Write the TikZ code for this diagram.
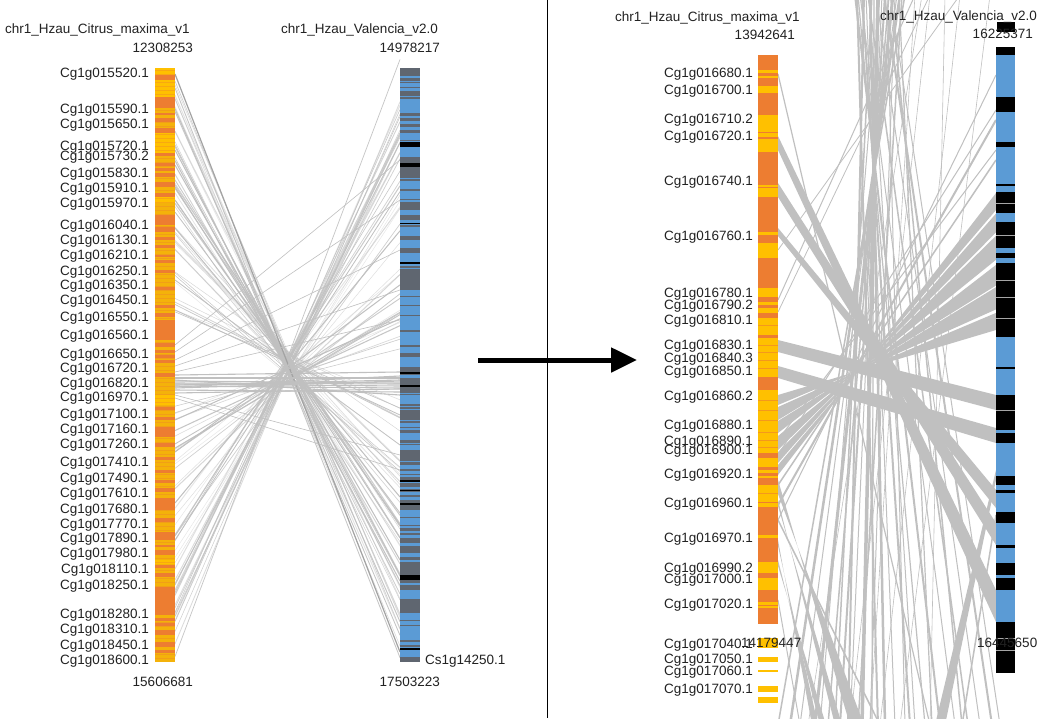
\documentclass[tikz,border=0pt]{standalone}
\usepackage{fontspec}
\setmainfont{Liberation Sans}
\usetikzlibrary{arrows.meta}
\definecolor{cmY}{HTML}{FFC000}
\definecolor{cmG}{HTML}{F4B20A}
\definecolor{cmO}{HTML}{ED7D31}
\definecolor{vB}{HTML}{5B9BD5}
\definecolor{vG}{HTML}{5F6670}
\definecolor{lnk}{HTML}{C0C0C0}
\definecolor{txt}{HTML}{222222}
\begin{document}
\begin{tikzpicture}[x=1pt,y=-1pt,
  lab/.style={anchor=base east,inner sep=0pt,font=\fontsize{13.5}{16}\selectfont,text=txt},
  labw/.style={anchor=base west,inner sep=0pt,font=\fontsize{13.5}{16}\selectfont,text=txt},
  llink/.style={draw=lnk},
  rlink/.style={fill=lnk},
  rline/.style={draw=lnk}]
\useasboundingbox (0,0) rectangle (1063,718);
\fill[white] (0,0) rectangle (1063,718);

% ================= LEFT PANEL LINKS =================
\pgfmathsetseed{7}
\foreach \i in {1,...,45}{
  \pgfmathsetmacro\a{80+rnd*250}
  \pgfmathsetmacro\b{725-\a+(rnd-0.5)*50}
  \pgfmathsetmacro\w{0.4+rnd*0.7}
  \pgfmathsetmacro\o{0.35+rnd*0.6}
  \draw[llink,line width=\w,opacity=\o] (175,\a) -- (400,\b);
}
\foreach \i in {1,...,45}{
  \pgfmathsetmacro\a{398+rnd*262}
  \pgfmathsetmacro\b{345-(\a-400)*1.06+(rnd-0.5)*50}
  \pgfmathsetmacro\w{0.4+rnd*0.7}
  \pgfmathsetmacro\o{0.35+rnd*0.6}
  \draw[llink,line width=\w,opacity=\o] (175,\a) -- (400,\b);
}
\foreach \a/\w in {150/0.8,165/1,187/1,200/1.2,212/0.8,228/1,280/0.8,310/0.8}
  \draw[llink,line width=\w] (175,\a) -- (400,{725-\a});
\draw[llink,line width=1.2,draw=lnk!85!black] (175,74) -- (400,652);
\foreach \a/\w in {420/1,452/1,503/1,540/0.8}
  \draw[llink,line width=\w] (175,\a) -- (400,{340-(\a-400)*1.06});
\foreach \a/\b in {375/372,378/378,381/383,384/386,386/388,388/381,390/392,393/389,380/395,383/384,385/380,387/376}
  \draw[llink,line width=1.1] (175,\a) -- (400,\b);
\foreach \a/\b in {345/160,352/200,360/250,366/290,372/320,395/455,398/470}
  \draw[llink,line width=0.6] (175,\a) -- (400,\b);

% ================= RIGHT PANEL LINKS =================
\foreach \xt/\xb/\w in {905/778/1.5,900/790/2.5,897/800/1,893/815/3,889/828/1.5,885/840/2,882/850/1,878/862/3.5,874/872/1.2,870/885/2.5,866/895/1,862/910/2,858/925/1.2,855/940/2,860/955/1,868/968/1.5,876/980/1,884/992/2,890/1000/1,880/820/1,872/835/1.5,895/870/1,887/905/1,864/848/2,902/858/1.5,857/878/2,899/932/1.2,891/962/1.5,869/915/1}
  \draw[rline,line width=\w] (\xt,-5) -- (\xb,725);
\foreach \xt/\xb in {915/870,930/850,960/880,990/900,945/930,922/808}
  \draw[rline,line width=0.6] (\xt,-5) -- (\xb,725);
\draw[rline,line width=1] (778,300) -- (915,-5);
\draw[rline,line width=0.8] (778,312) -- (930,-5);
\draw[rline,line width=0.8] (778,250) -- (960,-5);
\draw[rline,line width=1.2] (778,74) -- (930,725);
% fan
\foreach \la/\lb/\ra/\rb in {395/405/330/312.9,407/420/309.4/287.2,421/433/285.5/264.9,436/450/259.8/235.8,452/463/232.4/213.6,465/475/210.1/193}
  \fill[rlink] (778,\la) -- (996,\ra) -- (996,\rb) -- (778,\lb) -- cycle;
\draw[rline,line width=1] (778,440) -- (996,150);
\draw[rline,line width=1] (778,455) -- (996,110);
\draw[rline,line width=1.5] (778,485) -- (996,160);
\draw[rline,line width=2] (778,505) -- (996,120);
\draw[rline,line width=1] (778,520) -- (996,75);
% straight bands
\fill[rlink] (778,136) -- (996,590) -- (996,622) -- (778,150) -- cycle;
\fill[rlink] (778,183) -- (996,523) -- (996,545) -- (778,197) -- cycle;
\fill[rlink] (778,228) -- (996,490) -- (996,508) -- (778,236) -- cycle;
\fill[rlink] (778,340) -- (996,395) -- (996,410) -- (778,352) -- cycle;
\fill[rlink] (778,366) -- (996,428) -- (996,443) -- (778,378) -- cycle;
% bands to the bottom
\fill[rlink] (778,480) -- (850,725) -- (864,725) -- (778,494) -- cycle;
\fill[rlink] (778,500) -- (835,725) -- (842,725) -- (778,506) -- cycle;
\fill[rlink] (778,540) -- (812,725) -- (818,725) -- (778,546) -- cycle;
\fill[rlink] (778,560) -- (820,725) -- (826,725) -- (778,566) -- cycle;
\draw[rline,line width=1] (778,600) -- (800,725);
\draw[rline,line width=1.5] (778,520) -- (880,725);
\fill[rlink] (996,470) -- (935,725) -- (945,725) -- (996,480) -- cycle;
\draw[rline,line width=1.5] (996,515) -- (962,725);

% ================= DIVIDER & ARROW =================
\draw[black,line width=1] (547.5,0) -- (547.5,718);
\coordinate (arS) at (478,360);
\coordinate (arE) at (637,360);
\draw[black,line width=5,-{Triangle[length=26,width=24]}] (arS) -- (arE);

% ================= LEFT PANEL BARS =================
\fill[cmG] (155,68) rectangle (175,662);
\foreach \a/\b in {68/75,80/97,133/153,197/203,395/405,560/564}
  \fill[cmY] (155,\a) rectangle (175,\b);
\foreach \y in {70,74,...,658}
  \fill[cmO,opacity=0.35] (155,\y) rectangle (175,\y+1);
\foreach \a/\b in {75/80,97/108,113/115,118/122,128/133,153/156,163/166,168/171,173/177,182/187,193/197,215/225,227/232,237/240,245/248,255/257,260/263,270/273,287/290,305/308,313/317,320/340,343/347,350/353,355/358,360/363,373/377,407/410,417/420,427/437,443/447,457/460,470/473,480/483,488/492,498/510,518/522,532/540,545/547,550/555,565/568,573/577,587/615,618/621,623/626,630/635,642/647,650/653}
  \fill[cmO] (155,\a) rectangle (175,\b);
\fill[vB] (400,68) rectangle (420,662);
\pgfmathsetseed{11}
\foreach \i in {1,...,70}{
  \pgfmathsetmacro\a{70+rnd*590}
  \pgfmathsetmacro\h{0.8+rnd*1.6}
  \fill[vG] (400,\a) rectangle (420,\a+\h);
}
\foreach \a/\b in {68/74,78/79,82/83,87/88,93/94,98/99,113/116,119/121,124/127,130/133,157/163,167/177,202/210,217/220,225/227,237/240,248/249,270/290,296/297,305/306,315/316,330/332,345/347,355/357,367/375,378/393,410/420,430/433,440/443,450/460,462/465,477/480,483/486,489/492,495/497,500/510,517/518,525/526,538/543,547/553,562/575,580/583,585/590,600/613,620/621,657/662}
  \fill[vG] (400,\a) rectangle (420,\b);
\foreach \a/\b in {142/147,163/167,223/224,262/263.5,372/374,385/387,480/482,490/491,503/505,575/580,648/650}
  \fill[black] (400,\a) rectangle (420,\b);

% ================= RIGHT PANEL BARS =================
\fill[cmO] (758,55) rectangle (778,624);
\foreach \a/\b in {70/73,76/78,86/93,115/132,133/137,139/152,185/186.5,188/197,232/235,243/258,288/297,302/305,308/313,318/335,338/377,390/453,458/467,470/473,476/478,485/502,503/507,535/538,562/573,578/590,602/605,606/608}
  \fill[cmY] (758,\a) rectangle (778,\b);
\foreach \y in {345,352,360,368,400,410,420,432,440,447,325,493}
  \fill[cmO!60!cmY] (758,\y) rectangle (778,\y+0.8);
\foreach \a/\b in {638/648,657/662,670/671.5,686/692,697/703}
  \fill[cmY] (758,\a) rectangle (778,\b);
\fill[vB] (996,47) rectangle (1015,673);
\foreach \a/\b in {47/55,97/112,142/147,184/186,192/213,222/248,253/258,263/337,367/369,395/430,433/443,476/485,490/493,512/523,545/548,563/575,578/590,622/673}
  \fill[black] (996,\a) rectangle (1015,\b);
\foreach \y in {203,235,280,297,318,410,638,650}
  \fill[gray!70] (996,\y) rectangle (1015,\y+0.8);
\fill[black] (997,22) rectangle (1015,32);

% ================= TEXTS =================
\node[labw] (t1) at (5,33) {chr1\_Hzau\_Citrus\_maxima\_v1};
\node[lab] (t2) at (193,52) {12308253};
\node[lab] (t3) at (193,686) {15606681};
\node[labw] (t4) at (281,33) {chr1\_Hzau\_Valencia\_v2.0};
\node[lab] (t5) at (440,52) {14978217};
\node[lab] (t6) at (440,686) {17503223};
\node[labw] (t7) at (425,664) {Cs1g14250.1};
\foreach \n/\y [count=\k] in {015520.1/72,015590.1/108,015650.1/123,015720.1/145,015730.2/155,015830.1/172,015910.1/187,015970.1/202,016040.1/224,016130.1/239,016210.1/254,016250.1/270,016350.1/284,016450.1/299,016550.1/316,016560.1/334,016650.1/353,016720.1/367,016820.1/382,016970.1/396,017100.1/413,017160.1/428,017260.1/443,017410.1/461,017490.1/477,017610.1/492,017680.1/508,017770.1/523,017890.1/537,017980.1/552,018110.1/568,018250.1/584,018280.1/613,018310.1/628,018450.1/644,018600.1/659}
  \node[lab] (la\k) at (149,\y+5) {Cg1g\n};
\node[labw] (r1) at (615,21) {chr1\_Hzau\_Citrus\_maxima\_v1};
\node[lab] (r2) at (795,39) {13942641};
\node[labw] (r3) at (880,20) {chr1\_Hzau\_Valencia\_v2.0};
\node[lab] (r4) at (1033,38) {16225371};
\node[labw] (r5) at (741,647) {14179447};
\node[labw] (r6) at (977,647) {16445650};
\foreach \n/\y [count=\k] in {016680.1/72,016700.1/89,016710.2/118,016720.1/135,016740.1/180,016760.1/235,016780.1/292,016790.2/304,016810.1/319,016830.1/344,016840.3/357,016850.1/370,016860.2/395,016880.1/424,016890.1/440,016900.1/449,016920.1/473,016960.1/502,016970.1/537,016990.2/567,017000.1/578,017020.1/603,017040.1/643,017050.1/658,017060.1/670,017070.1/688}
  \node[lab] (ra\k) at (753,\y+5) {Cg1g\n};
\end{tikzpicture}
\end{document}
